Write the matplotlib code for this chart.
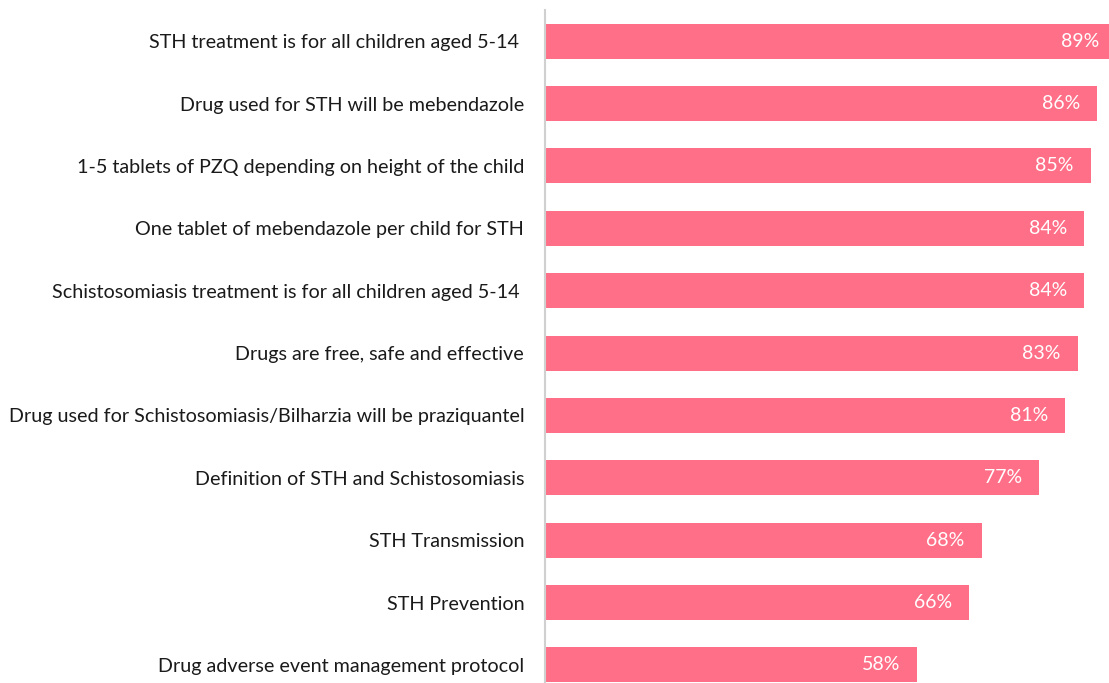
import matplotlib
matplotlib.use("Agg")
import matplotlib.pyplot as plt
from matplotlib.transforms import offset_copy

categories = [
    "STH treatment is for all children aged 5-14 ",
    "Drug used for STH will be mebendazole",
    "1-5 tablets of PZQ depending on height of the child",
    "One tablet of mebendazole per child for STH",
    "Schistosomiasis treatment is for all children aged 5-14 ",
    "Drugs are free, safe and effective",
    "Drug used for Schistosomiasis/Bilharzia will be praziquantel",
    "Definition of STH and Schistosomiasis",
    "STH Transmission",
    "STH Prevention",
    "Drug adverse event management protocol",
]
values = [89, 86, 85, 84, 84, 83, 81, 77, 68, 66, 58]

BAR_COLOR = "#FF6F87"
W, H, DPI = 1109, 683, 100
plt.rcParams["font.family"] = ["Lato", "DejaVu Sans"]

fig = plt.figure(figsize=(W / DPI, H / DPI), dpi=DPI)
left, right, top, bottom = 545, 1109, 10, 683
ax = fig.add_axes([left / W, 1 - bottom / H, (right - left) / W, (bottom - top) / H])

ypos = list(range(len(categories)))
ax.barh(ypos, values, height=0.56, color=BAR_COLOR)
ax.set_xlim(0, 87.85)
ax.set_ylim(10.29, -0.5)

ax.set_yticks(ypos)
ax.set_yticklabels(categories, fontsize=14.2, color="#1a1a1a")
ax.tick_params(axis="y", length=0, pad=15)
ax.set_xticks([])

for side in ["top", "right", "bottom"]:
    ax.spines[side].set_visible(False)
ax.spines["left"].set_color("#d0d0d0")
ax.spines["left"].set_linewidth(1.5)

for y, v in zip(ypos, values):
    tr = offset_copy(ax.transData, fig=fig, x=-17, y=0, units="dots")
    ax.text(v, y, f"{v}%", transform=tr, ha="right", va="center",
            color="white", fontsize=14, clip_on=False)

fig.savefig("out.png", dpi=DPI)
